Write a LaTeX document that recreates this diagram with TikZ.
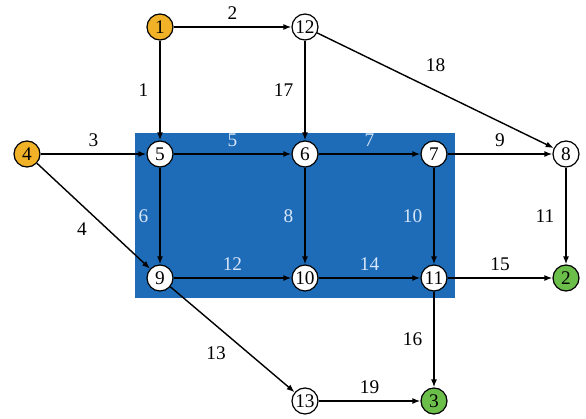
\documentclass[tikz,border=0pt]{standalone}
\usepackage{fontspec}
\setmainfont{Liberation Serif}
\usetikzlibrary{positioning, arrows.meta}

\definecolor{zoneblue}{RGB}{30,108,184}
\definecolor{srcorange}{RGB}{242,178,40}
\definecolor{sinkgreen}{RGB}{108,190,74}
\definecolor{lablight}{RGB}{215,230,248}

\begin{document}
\begin{tikzpicture}[
    x=0.02cm, y=-0.02cm,
    vert/.style={draw, circle, line width=0.7pt, minimum size=0.52cm, inner sep=0pt, fill=white, font=\fontsize{11}{13}\selectfont},
    source/.style={vert, fill=srcorange},
    sink/.style={vert, fill=sinkgreen},
    link/.style={line width=0.8pt, -{Latex[length=1.6mm, width=1.2mm]}},
    lab/.style={font=\fontsize{11}{13}\selectfont, inner sep=2pt},
    inlab/.style={lab, text=lablight}
]
    \useasboundingbox (0,0) rectangle (586,419);

    % Zone
    \fill[zoneblue] (135,133) rectangle (455,298);

    % Sources
    \node[source] (n1) at (160,27) {1};
    \node[source] (n4) at (27,154) {4};

    % Inner nodes
    \node[vert] (n12) at (305,27) {12};
    \node[vert] (n5) at (160,154) {5};
    \node[vert] (n6) at (305,154) {6};
    \node[vert] (n7) at (434,154) {7};
    \node[vert] (n8) at (566,154) {8};
    \node[vert] (n9) at (160,278) {9};
    \node[vert] (n10) at (305,278) {10};
    \node[vert] (n11) at (434,278) {11};
    \node[vert] (n13) at (305,401) {13};

    % Sinks
    \node[sink] (n2) at (566,278) {2};
    \node[sink] (n3) at (434,401) {3};

    % Links
    \draw[link] (n1) -- node[lab, left=0.15cm] {1} (n5);
    \draw[link] (n1) -- node[lab, above=0.06cm] {2} (n12);
    \draw[link] (n4) -- node[lab, above=0.06cm] {3} (n5);
    \draw[link] (n4) -- node[lab, below left=0.05cm and 0.05cm] {4} (n9);
    \draw[link] (n5) -- node[inlab, above=0.06cm] {5} (n6);
    \draw[link] (n5) -- node[inlab, left=0.15cm] {6} (n9);
    \draw[link] (n6) -- node[inlab, above=0.06cm] {7} (n7);
    \draw[link] (n6) -- node[inlab, left=0.15cm] {8} (n10);
    \draw[link] (n7) -- node[lab, above=0.06cm] {9} (n8);
    \draw[link] (n7) -- node[inlab, left=0.15cm] {10} (n11);
    \draw[link] (n8) -- node[lab, left=0.15cm] {11} (n2);
    \draw[link] (n9) -- node[inlab, above=0.06cm] {12} (n10);
    \draw[link] (n9) -- node[lab, below left=0.05cm and 0.05cm] {13} (n13);
    \draw[link] (n10) -- node[inlab, above=0.06cm] {14} (n11);
    \draw[link] (n11) -- node[lab, above=0.06cm] {15} (n2);
    \draw[link] (n11) -- node[lab, left=0.15cm] {16} (n3);
    \draw[link] (n12) -- node[lab, left=0.15cm] {17} (n6);
    \draw[link] (n12) -- node[lab, above=0.3cm] {18} (n8);
    \draw[link] (n13) -- node[lab, above=0.06cm] {19} (n3);

\end{tikzpicture}
\end{document}
